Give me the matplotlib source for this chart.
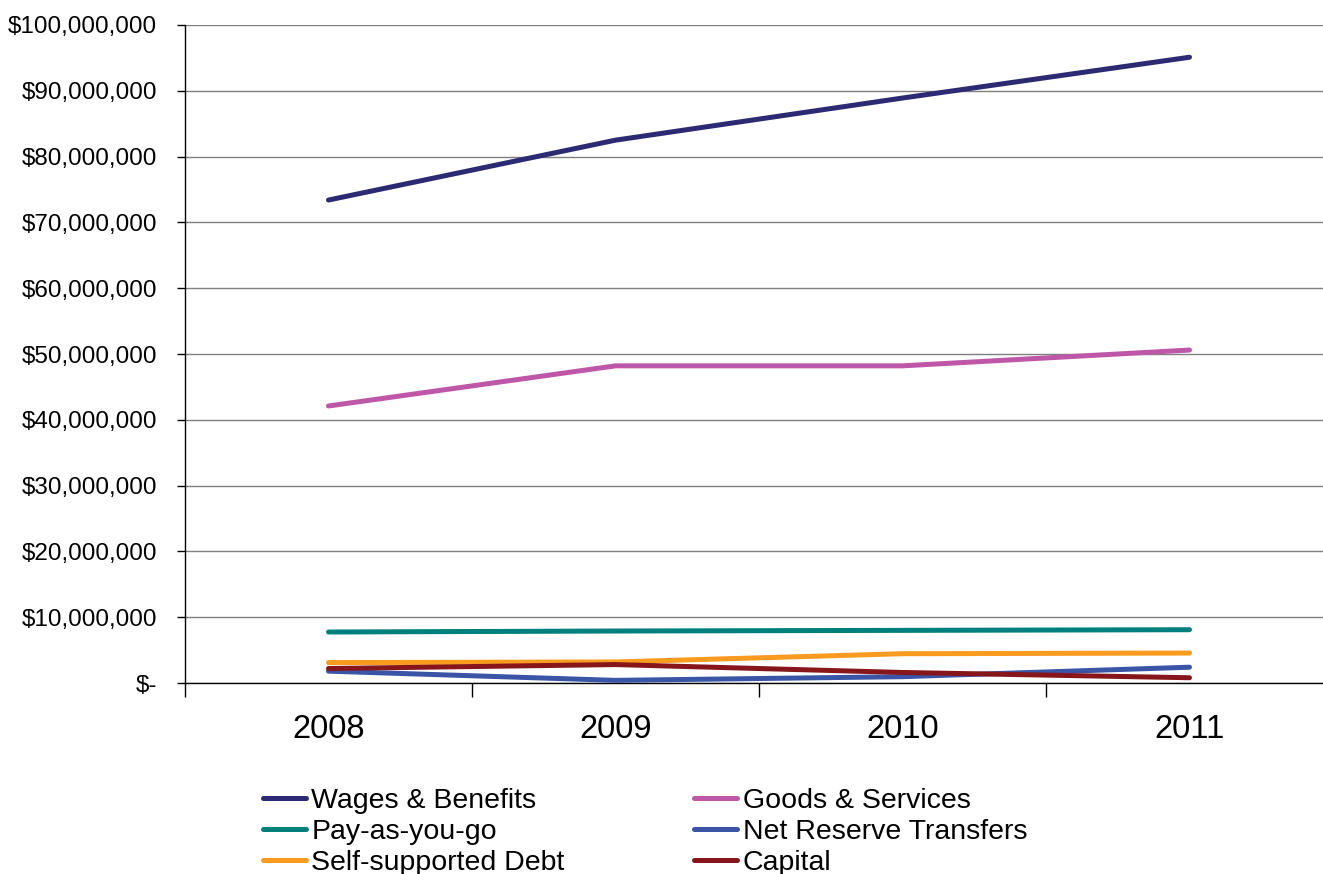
import matplotlib
matplotlib.use("Agg")
import matplotlib.pyplot as plt
from matplotlib.ticker import FuncFormatter, FixedLocator

plt.rcParams['font.family'] = ['Liberation Sans', 'DejaVu Sans']

years = ["2008", "2009", "2010", "2011"]
wages = [73.4e6, 82.5e6, 88.9e6, 95.1e6]
goods = [42.1e6, 48.2e6, 48.2e6, 50.6e6]
payg = [7.75e6, 7.9e6, 8.0e6, 8.1e6]
net_reserve = [1.8e6, 0.4e6, 0.96e6, 2.4e6]
self_debt = [3.1e6, 3.2e6, 4.45e6, 4.55e6]
capital = [2.2e6, 2.8e6, 1.6e6, 0.8e6]

series = [
    ("Wages & Benefits", wages, "#2B2A72"),
    ("Goods & Services", goods, "#BE57A8"),
    ("Pay-as-you-go", payg, "#00807C"),
    ("Net Reserve Transfers", net_reserve, "#3A55A6"),
    ("Self-supported Debt", self_debt, "#F89B1E"),
    ("Capital", capital, "#86161A"),
]

fig = plt.figure(figsize=(13.23, 8.74), dpi=100)
ax = fig.add_axes([185 / 1323, 1 - 683 / 874, 1148 / 1323, 658 / 874])

x = list(range(len(years)))
handles = {}
for name, vals, col in series:
    (h,) = ax.plot(x, vals, color=col, lw=3.6, solid_capstyle='round', label=name, zorder=3)
    handles[name] = h

ax.set_xlim(-0.5, len(years) - 0.5)
ax.set_ylim(0, 100e6)
ax.set_yticks([i * 10e6 for i in range(11)])
ax.yaxis.set_major_formatter(FuncFormatter(lambda v, p: "$-" if v == 0 else f"${v:,.0f}"))
ax.grid(axis='y', color='#7f7f7f', lw=1, zorder=0)
ax.tick_params(axis='y', labelsize=17.5, length=6, width=1, pad=14, color='black')

ax.set_xticks(x)
ax.set_xticklabels(years)
ax.tick_params(axis='x', which='major', length=0, labelsize=23.5, pad=22)
ax.xaxis.set_minor_locator(FixedLocator([-0.5, 0.5, 1.5, 2.5]))
ax.tick_params(axis='x', which='minor', length=10, width=1, color='black')

for s in ['top', 'right']:
    ax.spines[s].set_visible(False)
ax.spines['left'].set_color('black')
ax.spines['bottom'].set_color('black')
ax.spines['left'].set_linewidth(1)
ax.spines['bottom'].set_linewidth(1)

order = ["Wages & Benefits", "Pay-as-you-go", "Self-supported Debt",
         "Goods & Services", "Net Reserve Transfers", "Capital"]
fig.legend([handles[n] for n in order], order, ncol=2, frameon=False,
           loc='upper left', bbox_to_anchor=(263 / 1323, 1 - 788 / 874),
           fontsize=20.5, handlelength=1.5, handletextpad=0.2,
           columnspacing=4.55, labelspacing=0.17, borderpad=0, borderaxespad=0)

fig.savefig("out.png", dpi=100)
